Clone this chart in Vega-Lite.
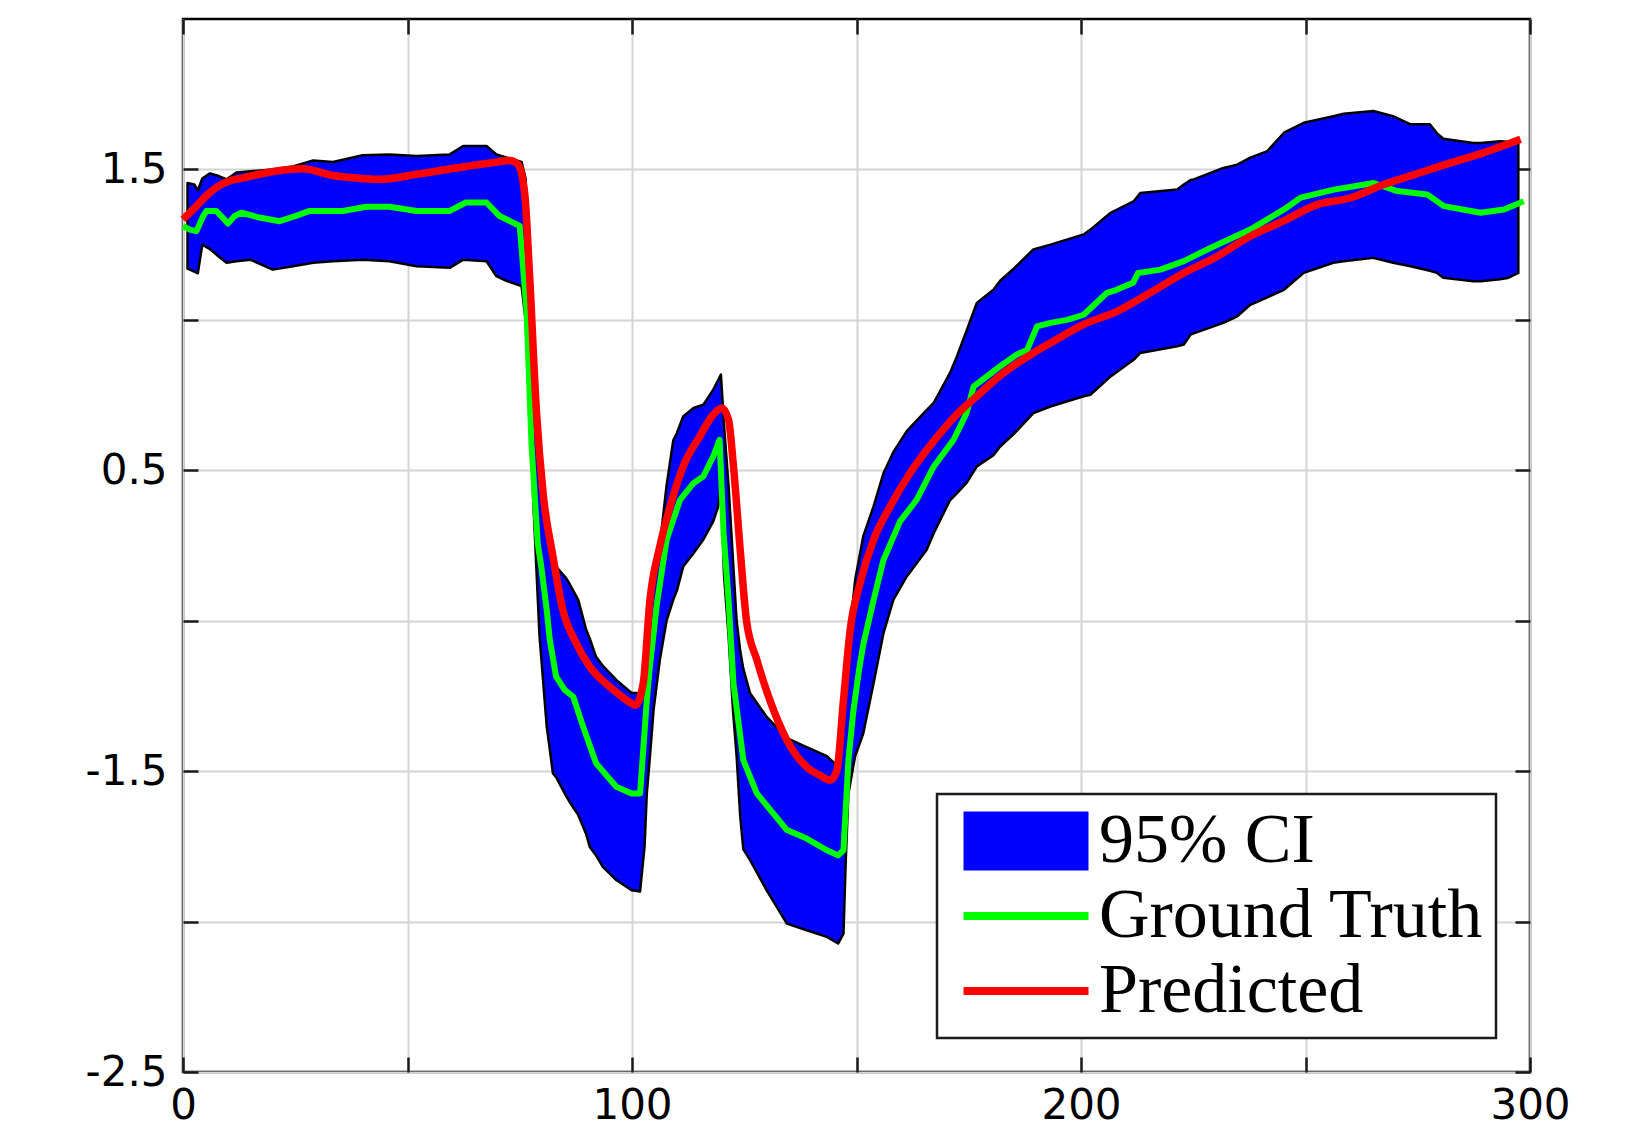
{
  "$schema": "https://vega.github.io/schema/vega-lite/v6.json",
  "autosize": {"type": "none"},
  "padding": {"left": 183, "top": 19, "right": 106, "bottom": 60},
  "width": 1347,
  "height": 1053,
  "background": "#ffffff",
  "config": {
    "view": {"stroke": "#000000", "strokeWidth": 2.5},
    "axis": {
      "labelFont": "DejaVu Sans",
      "labelFontSize": 42,
      "labelColor": "#000000",
      "labelOverlap": false,
      "labelFlush": false,
      "labelBound": false,
      "domain": false,
      "tickColor": "#1a1a1a",
      "tickWidth": 2.5,
      "tickSize": -15,
      "gridColor": "#d4d4d4",
      "gridWidth": 2,
      "gridOpacity": 1,
      "title": null
    },
    "legend": {
      "orient": "none",
      "legendX": 754,
      "legendY": 775,
      "direction": "vertical",
      "fillColor": "#ffffff",
      "strokeColor": "#1a1a1a",
      "strokeWidth": 2.5,
      "padding": 12,
      "labelFont": "Liberation Serif",
      "labelFontSize": 70,
      "labelColor": "#000000",
      "labelLimit": 0,
      "labelOffset": 38,
      "symbolSize": 3600,
      "symbolOffset": 42,
      "symbolStrokeWidth": 2,
      "rowPadding": 5,
      "symbolOpacity": 1
    }
  },
  "datasets": {
    "ci": [
      {"x": 1.0, "lo": 1.17, "hi": 1.455}, {"x": 2.5, "lo": 1.16, "hi": 1.45}, {"x": 3.3, "lo": 1.155, "hi": 1.43},
      {"x": 4.3, "lo": 1.25, "hi": 1.47}, {"x": 6.0, "lo": 1.235, "hi": 1.487}, {"x": 8.0, "lo": 1.21, "hi": 1.478},
      {"x": 9.7, "lo": 1.19, "hi": 1.467}, {"x": 11.9, "lo": 1.195, "hi": 1.49}, {"x": 15, "lo": 1.2, "hi": 1.494},
      {"x": 20, "lo": 1.167, "hi": 1.5}, {"x": 24.5, "lo": 1.178, "hi": 1.51}, {"x": 29, "lo": 1.19, "hi": 1.53},
      {"x": 33.4, "lo": 1.195, "hi": 1.525}, {"x": 40, "lo": 1.2, "hi": 1.547}, {"x": 46, "lo": 1.195, "hi": 1.55},
      {"x": 52, "lo": 1.178, "hi": 1.545}, {"x": 59.4, "lo": 1.173, "hi": 1.55}, {"x": 62.4, "lo": 1.2, "hi": 1.578},
      {"x": 67.6, "lo": 1.195, "hi": 1.578}, {"x": 69.8, "lo": 1.145, "hi": 1.55}, {"x": 72, "lo": 1.13, "hi": 1.54},
      {"x": 75.4, "lo": 1.112, "hi": 1.525}, {"x": 76.3, "lo": 1.0, "hi": 1.47}, {"x": 77.0, "lo": 0.8, "hi": 1.15},
      {"x": 78.0, "lo": 0.4, "hi": 0.85}, {"x": 79.4, "lo": -0.05, "hi": 0.535}, {"x": 81.0, "lo": -0.35, "hi": 0.3},
      {"x": 82.4, "lo": -0.508, "hi": 0.21}, {"x": 83.1, "lo": -0.52, "hi": 0.18}, {"x": 85.4, "lo": -0.585, "hi": 0.14},
      {"x": 86.0, "lo": -0.6, "hi": 0.125}, {"x": 88.0, "lo": -0.645, "hi": 0.07}, {"x": 89.8, "lo": -0.71, "hi": -0.03},
      {"x": 90.6, "lo": -0.752, "hi": -0.06}, {"x": 92.0, "lo": -0.78, "hi": -0.12}, {"x": 93.5, "lo": -0.818, "hi": -0.15},
      {"x": 96.5, "lo": -0.862, "hi": -0.197}, {"x": 99.9, "lo": -0.896, "hi": -0.24}, {"x": 101.8, "lo": -0.9, "hi": -0.24},
      {"x": 102.8, "lo": -0.75, "hi": -0.15}, {"x": 103.3, "lo": -0.574, "hi": -0.05}, {"x": 104.0, "lo": -0.45, "hi": 0.05},
      {"x": 104.8, "lo": -0.297, "hi": 0.12}, {"x": 106.2, "lo": -0.13, "hi": 0.25}, {"x": 107.7, "lo": 0.0, "hi": 0.45},
      {"x": 109.2, "lo": 0.07, "hi": 0.6}, {"x": 110.0, "lo": 0.1, "hi": 0.624}, {"x": 111.4, "lo": 0.18, "hi": 0.679},
      {"x": 113.7, "lo": 0.224, "hi": 0.707}, {"x": 115.9, "lo": 0.27, "hi": 0.718}, {"x": 118.1, "lo": 0.33, "hi": 0.768},
      {"x": 119.2, "lo": 0.38, "hi": 0.8}, {"x": 119.8, "lo": 0.45, "hi": 0.818}, {"x": 120.5, "lo": 0.15, "hi": 0.65},
      {"x": 121.5, "lo": -0.05, "hi": 0.45}, {"x": 122.5, "lo": -0.3, "hi": 0.2}, {"x": 123.3, "lo": -0.45, "hi": 0.0},
      {"x": 124.1, "lo": -0.65, "hi": -0.1}, {"x": 124.8, "lo": -0.76, "hi": -0.16}, {"x": 126.3, "lo": -0.796, "hi": -0.241},
      {"x": 130, "lo": -0.896, "hi": -0.32}, {"x": 134.5, "lo": -1.007, "hi": -0.39}, {"x": 138.9, "lo": -1.029, "hi": -0.42},
      {"x": 143.4, "lo": -1.051, "hi": -0.45}, {"x": 145.9, "lo": -1.073, "hi": -0.485}, {"x": 147.1, "lo": -1.04, "hi": -0.35},
      {"x": 147.6, "lo": -0.8, "hi": -0.2}, {"x": 148.2, "lo": -0.574, "hi": -0.08}, {"x": 149.7, "lo": -0.45, "hi": 0.136},
      {"x": 151.5, "lo": -0.375, "hi": 0.28}, {"x": 153.8, "lo": -0.208, "hi": 0.38}, {"x": 156, "lo": -0.042, "hi": 0.49},
      {"x": 158.2, "lo": 0.069, "hi": 0.56}, {"x": 161.2, "lo": 0.147, "hi": 0.63}, {"x": 165.6, "lo": 0.235, "hi": 0.7},
      {"x": 167.2, "lo": 0.291, "hi": 0.724}, {"x": 170.8, "lo": 0.4, "hi": 0.823}, {"x": 172.4, "lo": 0.424, "hi": 0.88},
      {"x": 174.6, "lo": 0.46, "hi": 0.967}, {"x": 176.8, "lo": 0.513, "hi": 1.056}, {"x": 180.5, "lo": 0.55, "hi": 1.1},
      {"x": 182, "lo": 0.579, "hi": 1.13}, {"x": 185, "lo": 0.62, "hi": 1.17}, {"x": 189.4, "lo": 0.69, "hi": 1.234},
      {"x": 193.2, "lo": 0.712, "hi": 1.25}, {"x": 200.6, "lo": 0.746, "hi": 1.284}, {"x": 202.1, "lo": 0.751, "hi": 1.3},
      {"x": 206.6, "lo": 0.812, "hi": 1.356}, {"x": 211.8, "lo": 0.868, "hi": 1.395}, {"x": 213.2, "lo": 0.89, "hi": 1.422},
      {"x": 221.4, "lo": 0.912, "hi": 1.433}, {"x": 222.9, "lo": 0.918, "hi": 1.45}, {"x": 224.4, "lo": 0.951, "hi": 1.465},
      {"x": 225.1, "lo": 0.955, "hi": 1.467}, {"x": 231.7, "lo": 0.99, "hi": 1.505}, {"x": 234.8, "lo": 1.012, "hi": 1.516},
      {"x": 237.7, "lo": 1.05, "hi": 1.539}, {"x": 241.5, "lo": 1.075, "hi": 1.561}, {"x": 245.2, "lo": 1.1, "hi": 1.622},
      {"x": 249.6, "lo": 1.156, "hi": 1.655}, {"x": 256.2, "lo": 1.19, "hi": 1.677}, {"x": 258.5, "lo": 1.195, "hi": 1.685},
      {"x": 265.1, "lo": 1.206, "hi": 1.694}, {"x": 269.5, "lo": 1.19, "hi": 1.677}, {"x": 273.4, "lo": 1.178, "hi": 1.65},
      {"x": 277.7, "lo": 1.163, "hi": 1.65}, {"x": 279.3, "lo": 1.156, "hi": 1.62}, {"x": 280.7, "lo": 1.14, "hi": 1.602},
      {"x": 287.4, "lo": 1.128, "hi": 1.588}, {"x": 289, "lo": 1.128, "hi": 1.588}, {"x": 293.3, "lo": 1.135, "hi": 1.594},
      {"x": 295, "lo": 1.139, "hi": 1.592}, {"x": 297.4, "lo": 1.156, "hi": 1.588}
    ],
    "gt": [
      {"x": 0, "y": 1.312}, {"x": 1.5, "y": 1.3}, {"x": 3, "y": 1.295}, {"x": 4.5, "y": 1.345}, {"x": 5.2, "y": 1.362},
      {"x": 7.4, "y": 1.362}, {"x": 8.5, "y": 1.345}, {"x": 10, "y": 1.32}, {"x": 11.5, "y": 1.345}, {"x": 13, "y": 1.356},
      {"x": 17, "y": 1.34}, {"x": 21.5, "y": 1.328}, {"x": 25, "y": 1.345}, {"x": 28.2, "y": 1.362}, {"x": 35.6, "y": 1.362},
      {"x": 40.8, "y": 1.376}, {"x": 46, "y": 1.376}, {"x": 52, "y": 1.362}, {"x": 59.4, "y": 1.362}, {"x": 63, "y": 1.39},
      {"x": 67.6, "y": 1.39}, {"x": 70.5, "y": 1.345}, {"x": 75, "y": 1.312}, {"x": 76.5, "y": 1.034}, {"x": 77.6, "y": 0.59},
      {"x": 79, "y": 0.257}, {"x": 79.8, "y": 0.18}, {"x": 81, "y": 0.036}, {"x": 81.7, "y": -0.064}, {"x": 83.1, "y": -0.186},
      {"x": 85, "y": -0.23}, {"x": 86.9, "y": -0.252}, {"x": 89.1, "y": -0.352}, {"x": 92, "y": -0.474}, {"x": 96.5, "y": -0.552},
      {"x": 99.9, "y": -0.574}, {"x": 101.8, "y": -0.574}, {"x": 103.3, "y": -0.264}, {"x": 104, "y": -0.15}, {"x": 105.5, "y": 0.05},
      {"x": 107.7, "y": 0.269}, {"x": 110.7, "y": 0.402}, {"x": 113.7, "y": 0.457}, {"x": 115.9, "y": 0.48}, {"x": 118.1, "y": 0.546},
      {"x": 119.5, "y": 0.601}, {"x": 120.4, "y": 0.29}, {"x": 121.5, "y": 0.069}, {"x": 122.6, "y": -0.208}, {"x": 124.8, "y": -0.463},
      {"x": 127.8, "y": -0.574}, {"x": 131.5, "y": -0.641}, {"x": 134.5, "y": -0.696}, {"x": 138.9, "y": -0.724}, {"x": 143.4, "y": -0.763},
      {"x": 145.9, "y": -0.78}, {"x": 147.1, "y": -0.763}, {"x": 148.2, "y": -0.463}, {"x": 149.3, "y": -0.3}, {"x": 150.5, "y": -0.17},
      {"x": 151.5, "y": -0.08}, {"x": 153.8, "y": 0.069}, {"x": 156, "y": 0.202}, {"x": 159.7, "y": 0.33}, {"x": 163.4, "y": 0.402},
      {"x": 167.1, "y": 0.51}, {"x": 171.6, "y": 0.601}, {"x": 173.1, "y": 0.646}, {"x": 174.5, "y": 0.69}, {"x": 176.1, "y": 0.779},
      {"x": 178, "y": 0.8}, {"x": 182, "y": 0.846}, {"x": 185.7, "y": 0.885}, {"x": 188, "y": 0.9}, {"x": 190.2, "y": 0.978},
      {"x": 193.2, "y": 0.99}, {"x": 196.9, "y": 1.0}, {"x": 200.6, "y": 1.017}, {"x": 205.8, "y": 1.09}, {"x": 207.9, "y": 1.1},
      {"x": 211.6, "y": 1.123}, {"x": 212.7, "y": 1.156}, {"x": 217.7, "y": 1.167}, {"x": 222.9, "y": 1.195}, {"x": 228.8, "y": 1.239},
      {"x": 237.7, "y": 1.3}, {"x": 245.2, "y": 1.367}, {"x": 248.9, "y": 1.406}, {"x": 256.3, "y": 1.433}, {"x": 265.2, "y": 1.455},
      {"x": 270.4, "y": 1.428}, {"x": 277.1, "y": 1.417}, {"x": 280.8, "y": 1.378}, {"x": 289, "y": 1.356}, {"x": 294.2, "y": 1.367},
      {"x": 298.6, "y": 1.394}
    ],
    "pred": [
      {"x": 0, "y": 1.334}, {"x": 3, "y": 1.378}, {"x": 5, "y": 1.41}, {"x": 7.4, "y": 1.44}, {"x": 10, "y": 1.46},
      {"x": 13.4, "y": 1.472}, {"x": 20.8, "y": 1.495}, {"x": 26.7, "y": 1.502}, {"x": 33.4, "y": 1.48}, {"x": 38, "y": 1.472},
      {"x": 43.8, "y": 1.467}, {"x": 52, "y": 1.484}, {"x": 63, "y": 1.51}, {"x": 70, "y": 1.525}, {"x": 72.8, "y": 1.53},
      {"x": 74.6, "y": 1.517}, {"x": 76.1, "y": 1.42}, {"x": 77.2, "y": 1.145}, {"x": 78.7, "y": 0.7}, {"x": 80.2, "y": 0.424},
      {"x": 82.4, "y": 0.213}, {"x": 84.6, "y": 0.036}, {"x": 87.6, "y": -0.075}, {"x": 90.6, "y": -0.153}, {"x": 95, "y": -0.219},
      {"x": 98, "y": -0.255}, {"x": 99.9, "y": -0.275}, {"x": 100.8, "y": -0.28}, {"x": 102.5, "y": -0.208}, {"x": 104, "y": 0.069},
      {"x": 106.2, "y": 0.247}, {"x": 108.5, "y": 0.38}, {"x": 111.4, "y": 0.513}, {"x": 115.1, "y": 0.613}, {"x": 118.1, "y": 0.685},
      {"x": 120, "y": 0.707}, {"x": 121.5, "y": 0.668}, {"x": 122.6, "y": 0.513}, {"x": 124.1, "y": 0.235}, {"x": 125.5, "y": 0.0},
      {"x": 127.8, "y": -0.13}, {"x": 130.7, "y": -0.264}, {"x": 134.5, "y": -0.397}, {"x": 138.9, "y": -0.486}, {"x": 142, "y": -0.515},
      {"x": 144.1, "y": -0.53}, {"x": 145.6, "y": -0.5}, {"x": 147.1, "y": -0.264}, {"x": 148.6, "y": -0.03}, {"x": 150.8, "y": 0.125},
      {"x": 153.8, "y": 0.269}, {"x": 157.5, "y": 0.38}, {"x": 161.9, "y": 0.49}, {"x": 167.1, "y": 0.595}, {"x": 172.3, "y": 0.685},
      {"x": 176.8, "y": 0.746}, {"x": 182, "y": 0.815}, {"x": 189.4, "y": 0.89}, {"x": 193.2, "y": 0.923}, {"x": 200.5, "y": 0.984},
      {"x": 208, "y": 1.028}, {"x": 215.3, "y": 1.089}, {"x": 222.9, "y": 1.156}, {"x": 230.2, "y": 1.21}, {"x": 237.7, "y": 1.278},
      {"x": 245, "y": 1.328}, {"x": 252.6, "y": 1.383}, {"x": 259.9, "y": 1.405}, {"x": 267.4, "y": 1.45}, {"x": 274.7, "y": 1.485},
      {"x": 282.3, "y": 1.522}, {"x": 289.6, "y": 1.555}, {"x": 297.9, "y": 1.6}
    ]
  },
  "layer": [
    {
      "data": {"name": "ci"},
      "mark": {"type": "area", "stroke": "#000000", "strokeWidth": 2.5, "strokeJoin": "round", "fillOpacity": 1},
      "encoding": {
        "x": {
          "field": "x", "type": "quantitative",
          "scale": {"domain": [0, 300], "nice": false, "zero": false},
          "axis": {
            "orient": "bottom",
            "values": [0, 50, 100, 150, 200, 250, 300],
            "labelExpr": "datum.value % 100 === 0 ? datum.label : ''",
            "labelPadding": 28,
            "grid": true
          }
        },
        "y": {
          "field": "lo", "type": "quantitative",
          "scale": {"domain": [-1.5, 2.0], "nice": false, "zero": false},
          "axis": {
            "orient": "left",
            "values": [-1.5, -1, -0.5, 0, 0.5, 1, 1.5],
            "labelExpr": "datum.value === 1.5 ? '1.5' : datum.value === 0.5 ? '0.5' : datum.value === -0.5 ? '-1.5' : datum.value === -1.5 ? '-2.5' : ''",
            "labelPadding": 31,
            "grid": true
          }
        },
        "y2": {"field": "hi"},
        "color": {
          "datum": "95% CI", "type": "nominal",
          "scale": {"domain": ["95% CI", "Ground Truth", "Predicted"], "range": ["#0000ff", "#00ff00", "#ff0000"]},
          "legend": {"title": null, "orient": "none", "legendX": 754, "legendY": 775}
        }
      }
    },
    {
      "data": {"name": "gt"},
      "mark": {"type": "line", "strokeWidth": 6, "strokeJoin": "round"},
      "encoding": {
        "x": {"field": "x", "type": "quantitative", "scale": {"domain": [0, 300], "nice": false, "zero": false}, "axis": null},
        "y": {"field": "y", "type": "quantitative", "scale": {"domain": [-1.5, 2.0], "nice": false, "zero": false}, "axis": null},
        "color": {"datum": "Ground Truth", "type": "nominal"}
      }
    },
    {
      "data": {"name": "pred"},
      "mark": {"type": "line", "strokeWidth": 7.5, "strokeJoin": "round", "interpolate": "monotone"},
      "encoding": {
        "x": {"field": "x", "type": "quantitative", "scale": {"domain": [0, 300], "nice": false, "zero": false}, "axis": null},
        "y": {"field": "y", "type": "quantitative", "scale": {"domain": [-1.5, 2.0], "nice": false, "zero": false}, "axis": null},
        "color": {"datum": "Predicted", "type": "nominal"}
      }
    },
    {
      "data": {"name": "gt"},
      "mark": {"type": "point", "size": 0, "filled": true},
      "encoding": {
        "x": {"field": "x", "type": "quantitative", "scale": {"domain": [0, 300], "nice": false, "zero": false}, "axis": null},
        "y": {"field": "y", "type": "quantitative", "scale": {"domain": [-1.5, 2.0], "nice": false, "zero": false}, "axis": null},
        "color": {"datum": "Ground Truth", "type": "nominal"},
        "shape": {
          "datum": "Ground Truth", "type": "nominal",
          "scale": {
            "domain": ["95% CI", "Ground Truth", "Predicted"],
            "range": ["M-2.05,-0.95H2.05V0.95H-2.05Z", "M-2.05,-0.1H2.05V0.1H-2.05Z", "M-2.05,-0.1H2.05V0.1H-2.05Z"]
          },
          "legend": {"title": null, "orient": "none", "legendX": 754, "legendY": 775}
        }
      }
    },
    {
      "data": {"name": "gt"},
      "mark": {"type": "line", "opacity": 0},
      "encoding": {
        "x": {
          "field": "x", "type": "quantitative", "scale": {"domain": [0, 300], "nice": false, "zero": false},
          "axis": {"orient": "top", "values": [0, 50, 100, 150, 200, 250, 300], "labels": false, "grid": false}
        },
        "y": {
          "field": "y", "type": "quantitative", "scale": {"domain": [-1.5, 2.0], "nice": false, "zero": false},
          "axis": {"orient": "right", "values": [-1.5, -1, -0.5, 0, 0.5, 1, 1.5], "labels": false, "grid": false}
        }
      }
    }
  ],
  "resolve": {"axis": {"x": "independent", "y": "independent"}}
}
